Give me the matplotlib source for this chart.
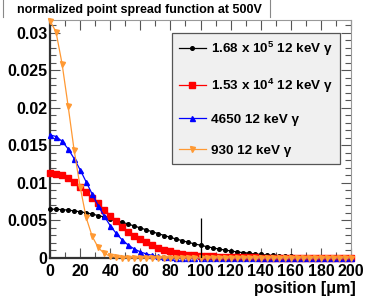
import matplotlib
matplotlib.use("Agg")
import matplotlib.pyplot as plt
from matplotlib.ticker import MultipleLocator
from matplotlib.lines import Line2D

plt.rcParams['font.family'] = ['Liberation Sans', 'DejaVu Sans']
plt.rcParams['font.weight'] = 'bold'
plt.rcParams['mathtext.fontset'] = 'custom'
plt.rcParams['mathtext.rm'] = 'Liberation Sans'
plt.rcParams['mathtext.bf'] = 'Liberation Sans:bold'
plt.rcParams['mathtext.default'] = 'bf'

# positions in micrometres
position = list(range(0, 201, 4))

# 1.68 x 10^5 photons
psf_168e5 = [0.00650, 0.00649, 0.00644, 0.00638, 0.00628, 0.00616, 0.00602, 0.00585,
             0.00566, 0.00546, 0.00524, 0.00501, 0.00477, 0.00452, 0.00426, 0.00401,
             0.00375, 0.00349, 0.00324, 0.00299, 0.00275, 0.00252, 0.00230, 0.00208,
             0.00188, 0.00170, 0.00152, 0.00136, 0.00120, 0.00107, 0.00094, 0.00082,
             0.00072, 0.00063, 0.00054, 0.00047, 0.00040, 0.00034, 0.00029, 0.00025,
             0.00021, 0.00018, 0.00015, 0.00012, 0.00010, 0.00008, 0.00007, 0.00006,
             0.00005, 0.00004, 0.00003]

# 1.53 x 10^4 photons
psf_153e4 = [0.01130, 0.01122, 0.01099, 0.01062, 0.01012, 0.00950, 0.00881, 0.00805,
             0.00726, 0.00645, 0.00566, 0.00489, 0.00417, 0.00351, 0.00295, 0.00250,
             0.00210, 0.00170, 0.00135, 0.00108, 0.00088, 0.00070, 0.00056, 0.00045,
             0.00036, 0.00029, 0.00024, 0.00020, 0.00017, 0.00014, 0.00012, 0.00010,
             0.00009, 0.00008, 0.00007, 0.00006, 0.00005, 0.00005, 0.00005, 0.00004,
             0.00004, 0.00004, 0.00004, 0.00003, 0.00003, 0.00003, 0.00003, 0.00003,
             0.00003, 0.00003, 0.00003]

# 4650 photons
psf_4650 = [0.01640, 0.01618, 0.01555, 0.01455, 0.01325, 0.01176, 0.01015, 0.00853,
            0.00699, 0.00557, 0.00432, 0.00327, 0.00240, 0.00172, 0.00120, 0.00082,
            0.00054, 0.00035, 0.00022, 0.00013, 0.00008, 0.00005, 0.00003, 0.00002,
            0.00001, 0.00001, 0.00001, 0.00001, 0.00001, 0.00001, 0.0, 0.0,
            0.0, 0.0, 0.0, 0.0, 0.0, 0.0, 0.0, 0.0,
            0.0, 0.0, 0.0, 0.0, 0.0, 0.0, 0.0, 0.0,
            0.0, 0.0, 0.0]

# 930 photons
psf_930 = [0.03160, 0.03010, 0.02590, 0.02030, 0.01440, 0.00950, 0.00540, 0.00290,
           0.00140, 0.00060, 0.00025, 0.00010, 0.00005, 0.00003, 0.00002, 0.00002,
           0.00001, 0.00001, 0.00001, 0.00001, 0.00001, 0.00001, 0.00001, 0.00001,
           0.00001, 0.00001, 0.00001, 0.00001, 0.00001, 0.00001, 0.00001, 0.00001,
           0.00001, 0.00001, 0.00001, 0.00001, 0.00001, 0.00001, 0.00001, 0.00001,
           0.00001, 0.00001, 0.00001, 0.00001, 0.00001, 0.00001, 0.00001, 0.00001,
           0.00001, 0.00001, 0.00001]

labels = [r'1.68 x 10$^{5}$ 12 keV γ', r'1.53 x 10$^{4}$ 12 keV γ',
          '4650 12 keV γ', '930 12 keV γ']

fig = plt.figure(figsize=(3.82, 2.97), dpi=100)
ax = fig.add_axes([50/382, 1-258/297, 301/382, 238/297])

ax.plot(position, psf_168e5, color='black', marker='o', ms=2.6, lw=0.9, label=labels[0], clip_on=False, zorder=3)
ax.plot(position, psf_153e4, color='#ff0000', marker='s', ms=3.8, lw=0.9, label=labels[1], clip_on=False, zorder=4)
ax.plot(position, psf_4650, color='#0000ff', marker='^', ms=3.6, lw=0.9, label=labels[2], clip_on=False, zorder=5)
ax.plot(position, psf_930, color='#ff9933', marker='v', ms=3.6, lw=0.9, label=labels[3], clip_on=False, zorder=6)
ax.vlines(100, 0, 0.0053, color='black', lw=0.9, zorder=7)

ax.set_xlim(0, 200)
ax.set_ylim(0, 0.0317)
ax.xaxis.set_major_locator(MultipleLocator(20))
ax.xaxis.set_minor_locator(MultipleLocator(10))
ax.yaxis.set_minor_locator(MultipleLocator(0.001))
ax.set_yticks([0, 0.005, 0.01, 0.015, 0.02, 0.025, 0.03])
ax.set_yticklabels(['0', '0.005', '0.01', '0.015', '0.02', '0.025', '0.03'])

ax.tick_params(which='both', direction='in', top=True, right=True, labelsize=11.5, colors='black')
ax.tick_params(which='major', length=7, width=0.8, color='#555555')
ax.tick_params(which='minor', length=4, width=0.8, color='#555555')
ax.tick_params(axis='x', pad=4)
ax.tick_params(axis='y', pad=2)
for lab in ax.get_xticklabels() + ax.get_yticklabels():
    lab.set_fontweight('bold')

for s in ['left', 'bottom']:
    ax.spines[s].set_linewidth(1.6)
    ax.spines[s].set_color('#333333')
for s in ['top', 'right']:
    ax.spines[s].set_linewidth(0.8)
    ax.spines[s].set_color('#999999')

# axis title, right aligned under the axis as in ROOT
fig.text(356/382, 1-288/297, 'position [μm]', fontsize=11.5, fontweight='bold',
         ha='right', va='center')

leg = ax.legend(loc='upper left', bbox_to_anchor=(0.405, 0.403, 0.558, 0.542), mode='expand',
                fontsize=9.7, numpoints=1, handlelength=2.0, handletextpad=0.4,
                labelspacing=1.38, borderpad=0.5, borderaxespad=0, fancybox=False, framealpha=1)
leg.get_frame().set_facecolor('#f0f0f0')
leg.get_frame().set_edgecolor('#555555')
leg.get_frame().set_linewidth(0.9)
for t in leg.get_texts():
    t.set_fontweight('bold')

# title pave
fig.text(17/382, 1-10/297, 'normalized point spread function at 500V', fontsize=9,
         fontweight='bold', ha='left', va='center')
for xp in [3, 270]:
    fig.add_artist(Line2D([xp/382, xp/382], [1-17/297, 1.0], transform=fig.transFigure,
                          color='#888888', lw=0.8))

fig.savefig('out.png', dpi=100)
